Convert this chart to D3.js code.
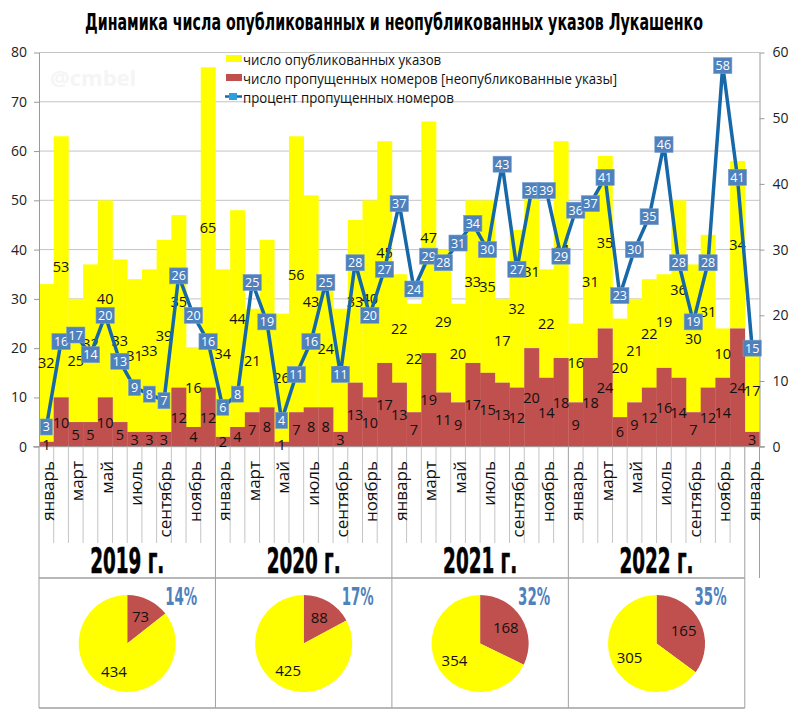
<!DOCTYPE html>
<html><head><meta charset="utf-8">
<script src="https://cdn.jsdelivr.net/npm/d3@7"></script>
<style>body{margin:0;background:#fff} svg{display:block}</style>
</head><body>
<svg id="chart" width="800" height="725"></svg>
<script>
const monthNames = ["январь","февраль","март","апрель","май","июнь","июль","август","сентябрь","октябрь","ноябрь","декабрь"];
const months = [];
for (let yy = 0; yy < 4; yy++) monthNames.forEach(m => months.push(m));
months.push("январь");
const published = [32,53,25,32,40,33,31,33,39,35,16,65,
                   34,44,21,34,26,56,43,24,25,33,40,45,
                   22,22,47,29,20,33,35,17,32,31,22,44,
                   16,31,35,20,21,22,19,36,30,31,10,34,
                   17];
const missed = [1,10,5,5,10,5,3,3,3,12,4,12,
                2,4,7,8,1,7,8,8,3,13,10,17,
                13,7,19,11,9,17,15,13,12,20,14,18,
                9,18,24,6,9,12,16,14,7,12,14,24,
                3];
const percent = [3,16,17,14,20,13,9,8,7,26,20,16,
                 6,8,25,19,4,11,16,25,11,28,20,27,
                 37,24,29,28,31,34,30,43,27,39,39,29,
                 36,37,41,23,30,35,46,28,19,28,58,41,
                 15];
const years = ["2019 г.","2020 г.","2021 г.","2022 г."];
const yearPublished = [434,425,354,305];
const yearMissed = [73,88,168,165];
const yearPercent = ["14%","17%","32%","35%"];
const leftTicks = [0,10,20,30,40,50,60,70,80];
const rightTicks = [0,10,20,30,40,50,60];
const legendLabels = ["число опубликованных указов","число пропущенных номеров [неопубликованные указы]","процент пропущенных номеров"];
const titleText = "Динамика числа опубликованных и неопубликованных указов Лукашенко";

const YELLOW = "#ffff00", RED = "#c0504d", BLUE = "#4f81bd", LINE = "#1668a8";
const FONT = "'Open Sans','Noto Sans',sans-serif";
const COND = "'DejaVu Sans Condensed','DejaVu Sans',sans-serif";

const svg = d3.select("#chart");
const n = months.length;
const x = d3.scaleBand().domain(d3.range(n)).range([39, 759.5]).padding(0);
const bw = x.bandwidth();
const y = d3.scaleLinear().domain([0,80]).range([446.7,52.5]);
const y2 = d3.scaleLinear().domain([0,60]).range([446.7,52.5]);
const bx = k => k < n ? x(k) : x.range()[1];

// title
svg.append("text").attr("x", 394).attr("y", 30).attr("text-anchor","middle")
  .attr("font-family", COND).attr("font-weight","bold").attr("font-size", 23)
  .attr("textLength", 618).attr("lengthAdjust","spacingAndGlyphs").attr("fill","#000")
  .text(titleText);

// watermark
svg.append("text").attr("x", 50).attr("y", 86).attr("font-family", FONT).attr("font-weight","bold")
  .attr("font-size", 22).attr("fill","#f5f5f5").text("@cmbel");

// gridlines
svg.append("g").selectAll("line").data(leftTicks.slice(1)).join("line")
  .attr("x1", 39).attr("x2", 759.5).attr("y1", d => y(d)).attr("y2", d => y(d))
  .attr("stroke","#c4c4c4").attr("stroke-width",1);

// bars
const gb = svg.append("g");
gb.selectAll("rect.pub").data(d3.range(n)).join("rect").attr("class","pub")
  .attr("x", i => x(i)).attr("width", bw + 0.3)
  .attr("y", i => y(missed[i] + published[i])).attr("height", i => y(missed[i]) - y(missed[i] + published[i]))
  .attr("fill", YELLOW);
gb.selectAll("rect.mis").data(d3.range(n)).join("rect").attr("class","mis")
  .attr("x", i => x(i)).attr("width", bw + 0.3)
  .attr("y", i => y(missed[i])).attr("height", i => y(0) - y(missed[i]))
  .attr("fill", RED);

// axes
const axL = svg.append("g").attr("transform","translate(39,0)")
  .call(d3.axisLeft(y).tickValues(leftTicks).tickSize(5).tickSizeOuter(0).tickPadding(7));
const axR = svg.append("g").attr("transform","translate(759.5,0)")
  .call(d3.axisRight(y2).tickValues(rightTicks).tickSize(5).tickSizeOuter(0).tickPadding(8));
[axL, axR].forEach(a => {
  a.select(".domain").attr("stroke","#9a9a9a");
  a.selectAll(".tick line").attr("stroke","#9a9a9a");
  a.selectAll(".tick text").attr("font-family", FONT).attr("font-size", 14).attr("fill","#222");
});
svg.append("line").attr("x1", 33).attr("x2", 765).attr("y1", y(0)).attr("y2", y(0)).attr("stroke","#9a9a9a");

// category ticks and table
const gt = svg.append("g").attr("stroke-width",1);
gt.selectAll("line").data(d3.range(n + 1)).join("line")
  .attr("x1", k => bx(k)).attr("x2", k => bx(k)).attr("y1", y(0))
  .attr("y2", k => k === n ? 578 : (k % 12 === 0 ? 708 : 543))
  .attr("stroke", k => (k % 12 === 0 || k === n) ? "#a0a0a0" : "#c4c4c4");
[578, 708].forEach(yy => svg.append("line").attr("x1", 39).attr("x2", bx(48)).attr("y1", yy).attr("y2", yy)
  .attr("stroke","#a0a0a0").attr("stroke-width",1.5));

// month labels
svg.append("g").selectAll("text").data(d3.range(0, n, 2)).join("text")
  .attr("transform", i => `translate(${x(i) + bw/2 + 1},461) rotate(-90)`)
  .attr("text-anchor","end").attr("dominant-baseline","central")
  .attr("font-family", FONT).attr("font-size", 17).attr("fill","#111")
  .text(i => months[i]);

// year labels
svg.append("g").selectAll("text").data(years).join("text")
  .attr("x", (d,k) => x(k*12) + 6*bw).attr("y", 573).attr("text-anchor","middle")
  .attr("font-family", COND).attr("font-weight","bold").attr("font-size", 35)
  .attr("textLength", 74).attr("lengthAdjust","spacingAndGlyphs").attr("fill","#000")
  .attr("stroke","#000").attr("stroke-width",0.6)
  .text(d => d);

// bar labels
const gl = svg.append("g").attr("font-family", FONT).attr("font-size", 14.5).attr("fill","#111")
  .attr("text-anchor","middle").attr("dominant-baseline","central");
gl.selectAll("text.pl").data(d3.range(n)).join("text").attr("class","pl")
  .attr("x", i => x(i) + bw/2).attr("y", i => y(missed[i] + published[i]/2)).text(i => published[i]);
gl.selectAll("text.ml").data(d3.range(n)).join("text").attr("class","ml")
  .attr("x", i => x(i) + bw/2).attr("y", i => y(missed[i]/2)).text(i => missed[i]);

// percent line
const line = d3.line().x(i => x(i) + bw/2).y(i => y2(percent[i]));
svg.append("path").datum(d3.range(n)).attr("d", line).attr("fill","none")
  .attr("stroke", LINE).attr("stroke-width", 3.5).attr("stroke-linejoin","round");
const gp = svg.append("g").selectAll("g").data(d3.range(n)).join("g")
  .attr("transform", i => `translate(${x(i) + bw/2},${y2(percent[i])})`);
gp.append("text").attr("text-anchor","middle").attr("dominant-baseline","central")
  .attr("font-family", FONT).attr("font-size", 12.5).attr("fill","#fff").text(i => percent[i]);
gp.each(function() {
  const g = d3.select(this), t = g.select("text"), w = t.node().getComputedTextLength();
  const bwid = Math.max(w + 4, 12);
  g.insert("rect","text").attr("x", -bwid/2).attr("y", -8).attr("width", bwid).attr("height", 16)
    .attr("fill", BLUE).attr("stroke","#7aa0cf").attr("stroke-width",0.6);
});

// legend
const lg = svg.append("g").attr("font-family", FONT).attr("font-size", 15).attr("fill","#111");
const ly = [58.5, 77.5, 96.5];
lg.append("rect").attr("x", 226).attr("y", ly[0]-3.5).attr("width", 16).attr("height", 7).attr("fill", YELLOW);
lg.append("rect").attr("x", 226).attr("y", ly[1]-3.5).attr("width", 16).attr("height", 7).attr("fill", RED);
lg.append("line").attr("x1", 225).attr("x2", 242).attr("y1", ly[2]).attr("y2", ly[2]).attr("stroke", LINE).attr("stroke-width", 2.5);
lg.append("rect").attr("x", 229).attr("y", ly[2]-3.5).attr("width", 8).attr("height", 7).attr("fill", "#2aa0de");
const lt = lg.selectAll("text").data(legendLabels).join("text")
  .attr("x", 243).attr("y", (d,k) => ly[k]).attr("dominant-baseline","central").text(d => d);
const scaleL = 374 / lt.nodes()[1].getComputedTextLength();
lt.each(function() {
  const w = this.getComputedTextLength();
  d3.select(this).attr("textLength", w * scaleL).attr("lengthAdjust","spacingAndGlyphs");
});

// pies
const pie = d3.pie().sort(null).value(d => d);
const R = 48.5;
const arc = d3.arc().innerRadius(0).outerRadius(R);
const labelArc = d3.arc().innerRadius(0).outerRadius(R * 1.25);
years.forEach((yr, k) => {
  const cx = x(k*12) + 6*bw, cy = 643.5;
  const g = svg.append("g").attr("transform", `translate(${cx},${cy})`);
  const arcs = pie([yearMissed[k], yearPublished[k]]);
  g.selectAll("path").data(arcs).join("path").attr("d", arc)
    .attr("fill", (d,j) => j === 0 ? RED : YELLOW);
  g.selectAll("text").data(arcs).join("text")
    .attr("transform", d => `translate(${labelArc.centroid(d)})`)
    .attr("text-anchor","middle").attr("dominant-baseline","central")
    .attr("font-family", FONT).attr("font-size", 15).attr("fill","#111")
    .text(d => d.data);
  svg.append("text").attr("x", cx + 54).attr("y", 605).attr("text-anchor","middle")
    .attr("font-family", COND).attr("font-weight","bold").attr("font-size", 24)
    .attr("textLength", 32).attr("lengthAdjust","spacingAndGlyphs").attr("fill", BLUE)
    .text(yearPercent[k]);
});
</script>
</body></html>
